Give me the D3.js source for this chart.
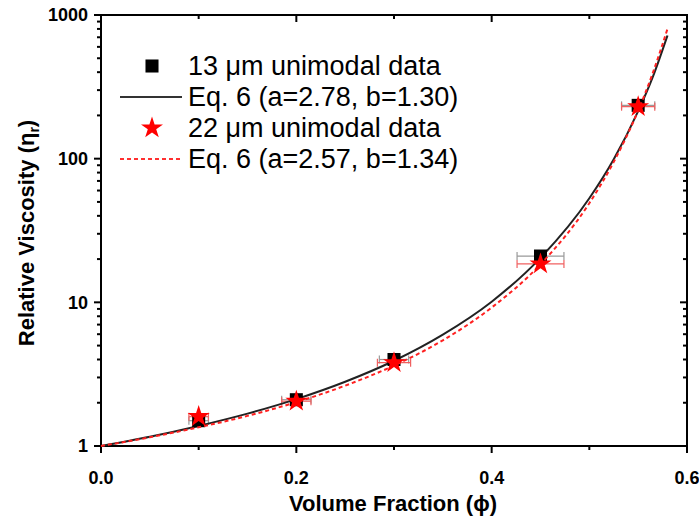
<!DOCTYPE html>
<html>
<head>
<meta charset="utf-8">
<script src="https://cdn.jsdelivr.net/npm/d3@7"></script>
<style>
  body { margin: 0; background: #fff; }
  svg { font-family: "Liberation Sans", Arial, sans-serif; }
</style>
</head>
<body>
<svg id="chart" width="699" height="522"></svg>
<script>
// measured data
var phi = [0.1, 0.2, 0.3, 0.45, 0.55];
var eta13 = [1.5, 2.1, 4.0, 21, 235];
var err13 = [0.01, 0.015, 0.015, 0.024, 0.017];
var eta22 = [1.6, 2.05, 3.8, 18.5, 230];
var err22 = [0.01, 0.015, 0.017, 0.024, 0.017];

// fitted curves
var fitPhi = [0, 0.05, 0.1, 0.15, 0.2, 0.25, 0.3, 0.35, 0.4, 0.45, 0.5, 0.525, 0.55, 0.565, 0.58];
var fit13 = [1, 1.16, 1.38, 1.68, 2.12, 2.8, 3.92, 5.96, 10.1, 20.4, 53, 99, 214, 371, 720];
var fit22 = [1, 1.15, 1.35, 1.62, 2.02, 2.63, 3.63, 5.44, 9.2, 18.4, 49, 95, 216, 395, 800];

var xTicks = [0, 0.2, 0.4, 0.6];
var xMinor = [0.1, 0.3, 0.5];
var yTicks = [1, 10, 100, 1000];

var legendLabels = [
  '13 \u03bcm unimodal data',
  'Eq. 6 (a=2.78, b=1.30)',
  '22 \u03bcm unimodal data',
  'Eq. 6 (a=2.57, b=1.34)'
];

var svg = d3.select('#chart');
var m = {left: 101, right: 687, top: 15, bottom: 446};

var x = d3.scaleLinear().domain([0, 0.6]).range([m.left, m.right]);
var y = d3.scaleLog().domain([1, 1000]).range([m.bottom, m.top]);

// minor log ticks
var yMinor = [];
for (var d = 1; d < 1000; d *= 10) {
  for (var k = 2; k < 10; k++) yMinor.push(d * k);
}

var plot = svg.append('g');

// frame
plot.append('rect')
  .attr('x', m.left).attr('y', m.top)
  .attr('width', m.right - m.left).attr('height', m.bottom - m.top)
  .style('fill', 'none').style('stroke', '#000').style('stroke-width', 2);

var ticks = svg.append('g').style('stroke', '#000').style('stroke-width', 2);

function tick(x1, y1, x2, y2) {
  ticks.append('line').attr('x1', x1).attr('y1', y1).attr('x2', x2).attr('y2', y2);
}

// x ticks: bottom outward, top inward
xTicks.forEach(function (t) {
  tick(x(t), m.bottom, x(t), m.bottom + 7);
  tick(x(t), m.top, x(t), m.top + 7);
});
xMinor.forEach(function (t) {
  tick(x(t), m.bottom, x(t), m.bottom + 4);
  tick(x(t), m.top, x(t), m.top + 4);
});
// y ticks: left outward, right inward
yTicks.forEach(function (t) {
  tick(m.left, y(t), m.left - 7, y(t));
  tick(m.right, y(t), m.right - 7, y(t));
});
yMinor.forEach(function (t) {
  tick(m.left, y(t), m.left - 4, y(t));
  tick(m.right, y(t), m.right - 4, y(t));
});

// tick labels
svg.append('g').selectAll('text').data(xTicks).enter().append('text')
  .attr('x', function (t) { return x(t); })
  .attr('y', 484)
  .attr('text-anchor', 'middle')
  .style('font-size', '18px').style('font-weight', 'bold')
  .text(function (t) { return d3.format('.1f')(t); });

svg.append('g').selectAll('text').data(yTicks).enter().append('text')
  .attr('x', 88)
  .attr('y', function (t) { return y(t); })
  .attr('dy', '0.35em')
  .attr('text-anchor', 'end')
  .style('font-size', '18px').style('font-weight', 'bold')
  .text(function (t) { return t; });

// axis titles
svg.append('text')
  .attr('x', (m.left + m.right) / 2 - 1).attr('y', 511)
  .attr('text-anchor', 'middle')
  .style('font-size', '22px').style('font-weight', 'bold')
  .text('Volume Fraction (\u03d5)');

var yt = svg.append('text')
  .attr('transform', 'translate(34,' + 233 + ') rotate(-90)')
  .attr('text-anchor', 'middle')
  .style('font-size', '22px').style('font-weight', 'bold');
yt.append('tspan').text('Relative Viscosity (\u03b7');
yt.append('tspan').attr('dy', 5).style('font-size', '14px').text('r');
yt.append('tspan').attr('dy', -5).text(')');

// curves
var line = d3.line().curve(d3.curveMonotoneX);
var pts13 = fitPhi.map(function (p, i) { return [x(p), y(fit13[i])]; });
var pts22 = fitPhi.map(function (p, i) { return [x(p), y(fit22[i])]; });

// error bars
function errorBars(vals, errs, color) {
  var g = svg.append('g').style('stroke', color).style('stroke-width', 1.2);
  phi.forEach(function (p, i) {
    var yy = y(vals[i]);
    var x0 = x(p - errs[i]), x1 = x(p + errs[i]);
    g.append('line').attr('x1', x0).attr('x2', x1).attr('y1', yy).attr('y2', yy);
    g.append('line').attr('x1', x0).attr('x2', x0).attr('y1', yy - 4).attr('y2', yy + 4);
    g.append('line').attr('x1', x1).attr('x2', x1).attr('y1', yy - 4).attr('y2', yy + 4);
  });
}
errorBars(eta13, err13, '#999');
errorBars(eta22, err22, '#f06060');

svg.append('path').attr('d', line(pts13))
  .style('fill', 'none').style('stroke', '#222').style('stroke-width', 2);

var sq = d3.symbol().type(d3.symbolSquare).size(170);
var star = d3.symbol().type(d3.symbolStar).size(150);

svg.append('g').selectAll('path').data(phi).enter().append('path')
  .attr('d', sq)
  .attr('transform', function (p, i) { return 'translate(' + x(p) + ',' + y(eta13[i]) + ')'; })
  .style('fill', '#000');

svg.append('path').attr('d', line(pts22))
  .style('fill', 'none').style('stroke', '#ff2020').style('stroke-width', 2)
  .style('stroke-dasharray', '4,3');

svg.append('g').selectAll('path').data(phi).enter().append('path')
  .attr('d', star)
  .attr('transform', function (p, i) { return 'translate(' + x(p) + ',' + y(eta22[i]) + ')'; })
  .style('fill', '#ff0000');

// legend
var lg = svg.append('g');
var rowY = [66, 97, 128, 159];
lg.append('path').attr('d', d3.symbol().type(d3.symbolSquare).size(170))
  .attr('transform', 'translate(152,' + rowY[0] + ')').style('fill', '#000');
lg.append('line').attr('x1', 120).attr('x2', 182).attr('y1', rowY[1]).attr('y2', rowY[1])
  .style('stroke', '#333').style('stroke-width', 2);
lg.append('path').attr('d', d3.symbol().type(d3.symbolStar).size(150))
  .attr('transform', 'translate(152,' + rowY[2] + ')').style('fill', '#ff0000');
lg.append('line').attr('x1', 120).attr('x2', 182).attr('y1', rowY[3]).attr('y2', rowY[3])
  .style('stroke', '#ff3030').style('stroke-width', 2).style('stroke-dasharray', '4,3');

lg.selectAll('text.leg').data(legendLabels).enter().append('text')
  .attr('class', 'leg')
  .attr('x', 188)
  .attr('y', function (d, i) { return rowY[i]; })
  .attr('dy', '0.35em')
  .style('font-size', '27px')
  .text(function (d) { return d; });
</script>
</body>
</html>
